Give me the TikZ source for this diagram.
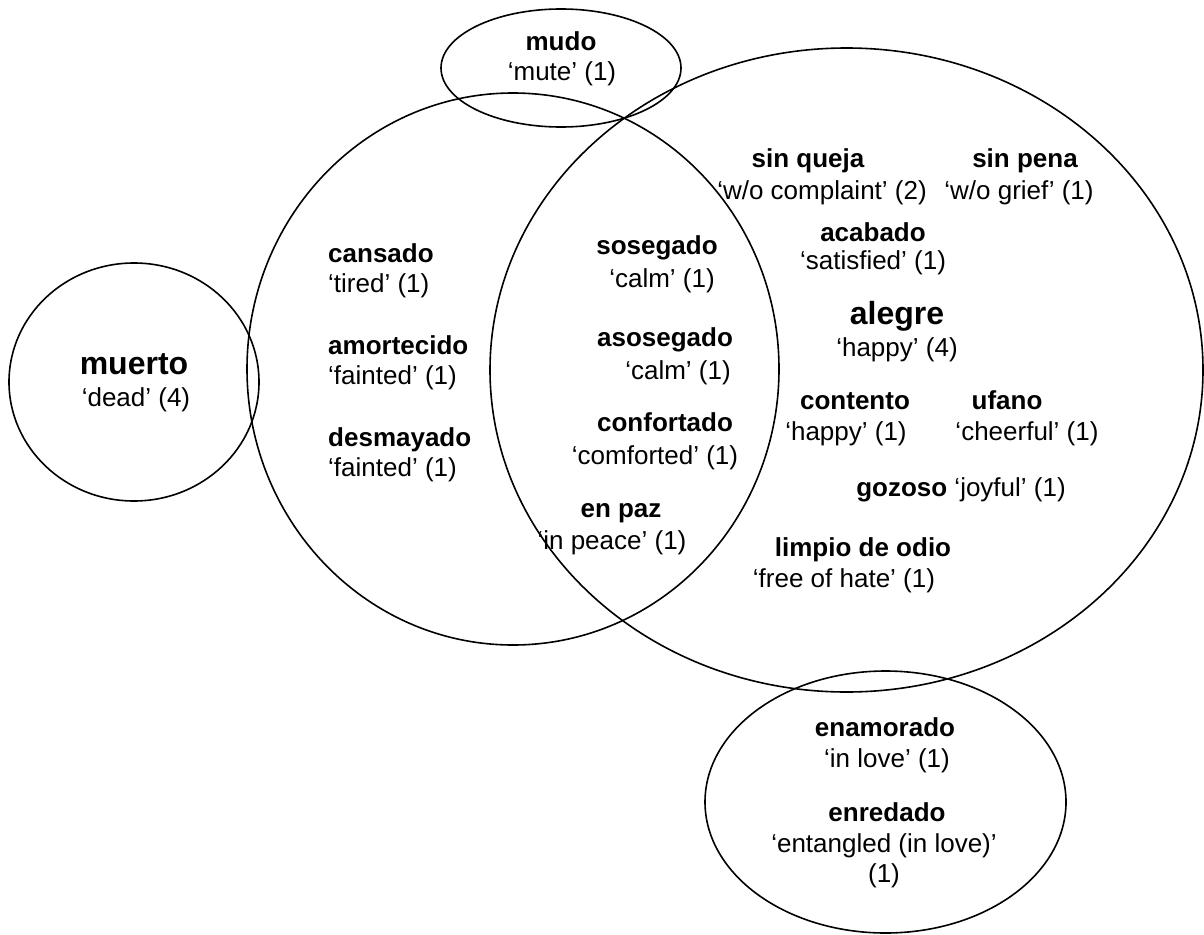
\documentclass[tikz,border=0pt]{standalone}
\usepackage{fontspec}
\setmainfont{Liberation Sans}
\begin{document}
\begin{tikzpicture}[x=1pt,y=-1pt,
  venn/.style={draw=black,line width=1.6pt},
  gloss/.style={inner sep=0pt,anchor=base,font=\fontsize{26}{30}\selectfont},
  word/.style={inner sep=0pt,anchor=base,font=\fontsize{26}{30}\selectfont\bfseries},
  bigword/.style={inner sep=0pt,anchor=base,font=\fontsize{32}{38}\selectfont\bfseries}]
\useasboundingbox (0,0) rectangle (1204,934);
% sets
\draw[venn] (134,382) ellipse [x radius=125, y radius=119];
\draw[venn] (513,369) ellipse [x radius=266, y radius=276];
\draw[venn] (846.5,370) ellipse [x radius=356.5, y radius=322];
\draw[venn] (561,68) ellipse [x radius=120, y radius=59];
\draw[venn] (885.5,802) ellipse [x radius=180.5, y radius=131];
% mudo
\node[word]  (mudo)  at (561,51) {mudo};
\node[gloss] (mudoG) at (562,81) {‘mute’ (1)};
% right set
\node[word]  (sinqueja)  at (808,167) {sin queja};
\node[gloss] (sinquejaG) at (822,199) {‘w/o complaint’ (2)};
\node[word]  (sinpena)   at (1025,167) {sin pena};
\node[gloss] (sinpenaG)  at (1019,199) {‘w/o grief’ (1)};
\node[word]  (acabado)   at (873,241) {acabado};
\node[gloss] (acabadoG)  at (873,269) {‘satisfied’ (1)};
\node[bigword] (alegre)  at (897,324) {alegre};
\node[gloss] (alegreG)   at (897,356) {‘happy’ (4)};
\node[word]  (contento)  at (855,409) {contento};
\node[gloss] (contentoG) at (846,440) {‘happy’ (1)};
\node[word]  (ufano)     at (1007,409) {ufano};
\node[gloss] (ufanoG)    at (1027,440) {‘cheerful’ (1)};
\node[gloss] (gozoso)    at (961,496) {\textbf{gozoso} ‘joyful’ (1)};
\node[word]  (limpio)    at (863,556) {limpio de odio};
\node[gloss] (limpioG)   at (844,587) {‘free of hate’ (1)};
% intersection
\node[word]  (sosegado)   at (657,254) {sosegado};
\node[gloss] (sosegadoG)  at (662,287) {‘calm’ (1)};
\node[word]  (asosegado)  at (665,346) {asosegado};
\node[gloss] (asosegadoG) at (678,379) {‘calm’ (1)};
\node[word]  (confortado) at (665,431) {confortado};
\node[gloss] (confortadoG) at (655,464) {‘comforted’ (1)};
\node[word]  (enpaz)      at (621,517) {en paz};
\node[gloss] (enpazG)     at (612,549) {‘in peace’ (1)};
% left set
\node[word,anchor=base west]  (cansado)     at (328,262) {cansado};
\node[gloss,anchor=base west] (cansadoG)    at (328,292) {‘tired’ (1)};
\node[word,anchor=base west]  (amortecido)  at (328,354) {amortecido};
\node[gloss,anchor=base west] (amortecidoG) at (328,384) {‘fainted’ (1)};
\node[word,anchor=base west]  (desmayado)   at (328,446) {desmayado};
\node[gloss,anchor=base west] (desmayadoG)  at (328,476) {‘fainted’ (1)};
% muerto
\node[bigword] (muerto)  at (134,374) {muerto};
\node[gloss]   (muertoG) at (136,406) {‘dead’ (4)};
% enamorado
\node[word]  (enamorado)  at (885,736) {enamorado};
\node[gloss] (enamoradoG) at (887,767) {‘in love’ (1)};
\node[word]  (enredado)   at (887,821) {enredado};
\node[gloss] (enredadoG)  at (884,852) {‘entangled (in love)’};
\node[gloss] (enredadoN)  at (884,882) {(1)};
\end{tikzpicture}
\end{document}
